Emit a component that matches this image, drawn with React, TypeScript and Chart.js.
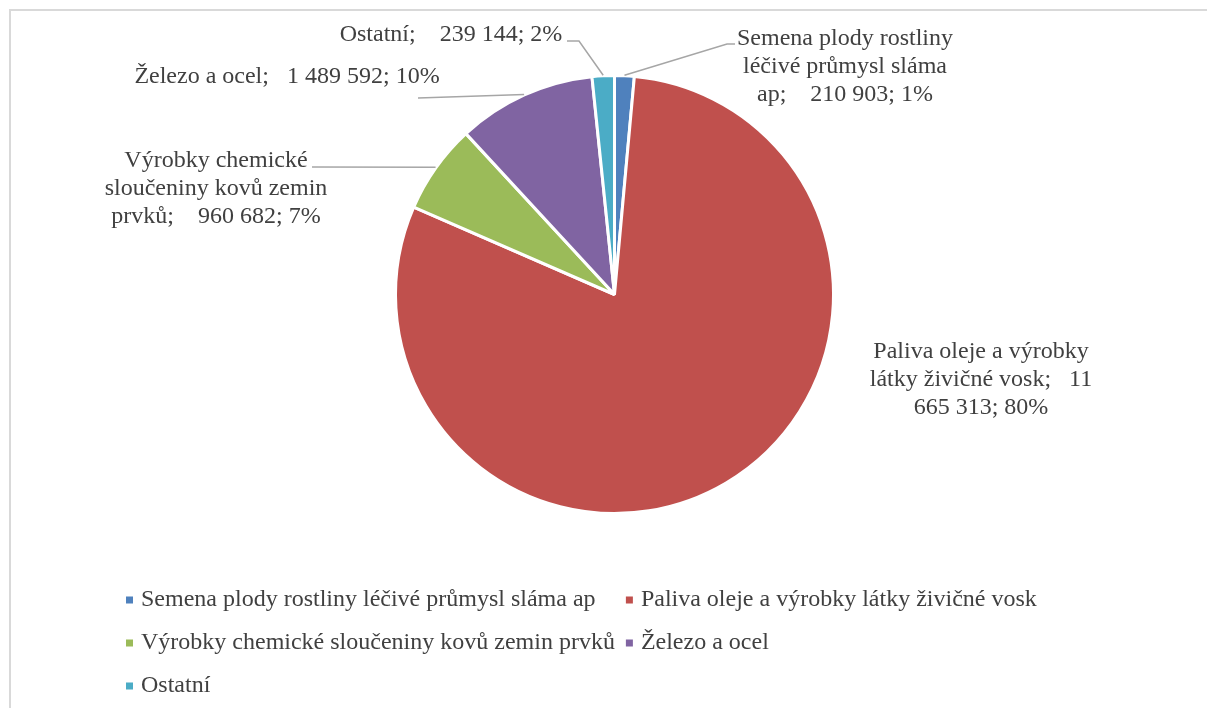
import React, { useEffect, useRef } from 'react';
import { Chart, registerables } from 'chart.js';

Chart.register(...registerables);

const categories = [
  'Semena plody rostliny léčivé průmysl sláma ap',
  'Paliva oleje a výrobky látky živičné vosk',
  'Výrobky chemické sloučeniny kovů zemin prvků',
  'Železo a ocel',
  'Ostatní',
];
const values = [210903, 11665313, 960682, 1489592, 239144];
const colors = ['#4F81BD', '#C0504D', '#9BBB59', '#8064A2', '#4BACC6'];

const FONT = '24px "Liberation Serif", "Times New Roman", serif';
const TEXT = '#404040';
const LEADER = '#a6a6a6';

// data-label placement (text centre x, first line centre y, wrap width, leader points from label side)
const labelLayout = [
  { x: 845, y: 39, w: 232, leader: [[735, 44], [727, 44]] },
  { x: 981, y: 352, w: 230, leader: [] as number[][] },
  { x: 216, y: 161, w: 230, leader: [[312, 167]] },
  { x: 287, y: 77, w: 420, leader: [[418, 98]] },
  { x: 451, y: 35, w: 420, leader: [[567, 41], [579, 41]] },
];

const legendLayout = { left: 126, rows: [600, 643, 686], cols: 2, box: 7, boxGap: 8, colGap: 11 };

function fmt(v: number) {
  return v.toString().replace(/\B(?=(\d{3})+(?!\d))/g, ' ');
}

function wrap(ctx: CanvasRenderingContext2D, text: string, maxW: number) {
  const tokens = text.match(/\S+\s*/g) || [];
  const lines: string[] = [];
  let cur = '';
  for (const t of tokens) {
    const test = cur + t;
    if (cur && ctx.measureText(test.trimEnd()).width > maxW) {
      lines.push(cur.trimEnd());
      cur = t;
    } else cur = test;
  }
  if (cur) lines.push(cur.trimEnd());
  return lines;
}

const labelsPlugin = {
  id: 'excelLabels',
  afterDatasetsDraw(chart: any) {
    const ctx: CanvasRenderingContext2D = chart.ctx;
    const meta = chart.getDatasetMeta(0);
    const total = values.reduce((a, b) => a + b, 0);
    ctx.save();
    ctx.font = FONT;
    ctx.fillStyle = TEXT;
    ctx.textAlign = 'center';
    ctx.textBaseline = 'middle';
    meta.data.forEach((arc: any, i: number) => {
      const lay = labelLayout[i];
      const pct = Math.round((values[i] / total) * 100);
      const sep = values[i] >= 1e6 ? ';   ' : ';    ';
      const text = `${categories[i]}${sep}${fmt(values[i])}; ${pct}%`;
      const lines = wrap(ctx, text, lay.w);
      lines.forEach((ln, k) => ctx.fillText(ln, lay.x, lay.y + k * 28));
      if (lay.leader.length) {
        const mid = (arc.startAngle + arc.endAngle) / 2;
        const ex = arc.x + (arc.outerRadius + 0.5) * Math.cos(mid);
        const ey = arc.y + (arc.outerRadius + 0.5) * Math.sin(mid);
        ctx.beginPath();
        ctx.strokeStyle = LEADER;
        ctx.lineWidth = 1.5;
        ctx.moveTo(lay.leader[0][0], lay.leader[0][1]);
        for (let k = 1; k < lay.leader.length; k++) ctx.lineTo(lay.leader[k][0], lay.leader[k][1]);
        ctx.lineTo(ex, ey);
        ctx.stroke();
      }
    });
    ctx.restore();
  },
};

const legendPlugin = {
  id: 'excelLegend',
  afterDraw(chart: any) {
    const ctx: CanvasRenderingContext2D = chart.ctx;
    const L = legendLayout;
    ctx.save();
    ctx.font = FONT;
    ctx.textBaseline = 'middle';
    ctx.textAlign = 'left';
    const colW: number[] = [];
    categories.forEach((c, i) => {
      const col = i % L.cols;
      colW[col] = Math.max(colW[col] || 0, ctx.measureText(c).width);
    });
    const colX: number[] = [L.left];
    for (let c = 1; c < L.cols; c++) colX[c] = colX[c - 1] + L.box + L.boxGap + colW[c - 1] + L.colGap;
    categories.forEach((c, i) => {
      const col = i % L.cols;
      const row = Math.floor(i / L.cols);
      const y = L.rows[row];
      const x = colX[col];
      ctx.fillStyle = colors[i];
      ctx.fillRect(x, y - L.box / 2, L.box, L.box);
      ctx.fillStyle = TEXT;
      ctx.fillText(c, x + L.box + L.boxGap, y);
    });
    ctx.restore();
  },
};

export default function App() {
  const ref = useRef<HTMLCanvasElement>(null);
  useEffect(() => {
    const chart = new Chart(ref.current!, {
      type: 'pie',
      data: {
        labels: categories,
        datasets: [
          {
            data: values,
            backgroundColor: colors,
            borderColor: '#ffffff',
            borderWidth: 3,
            radius: 219,
          } as any,
        ],
      },
      options: {
        responsive: false,
        animation: false,
        layout: { padding: { left: 22, right: 0, top: 0, bottom: 119 } },
        plugins: { legend: { display: false }, tooltip: { enabled: false } },
      },
      plugins: [labelsPlugin, legendPlugin],
    });
    return () => chart.destroy();
  }, []);
  return (
    <div style={{ position: 'fixed', left: 0, top: 0, width: 1207, height: 708, overflow: 'hidden', background: '#fff' }}>
      <div
        style={{
          position: 'absolute',
          left: 9,
          top: 9,
          width: 1300,
          height: 800,
          border: '2px solid #d9d9d9',
          boxSizing: 'border-box',
        }}
      />
      <canvas ref={ref} width={1207} height={708} style={{ position: 'absolute', left: 0, top: 0, width: 1207, height: 708 }} />
    </div>
  );
}
